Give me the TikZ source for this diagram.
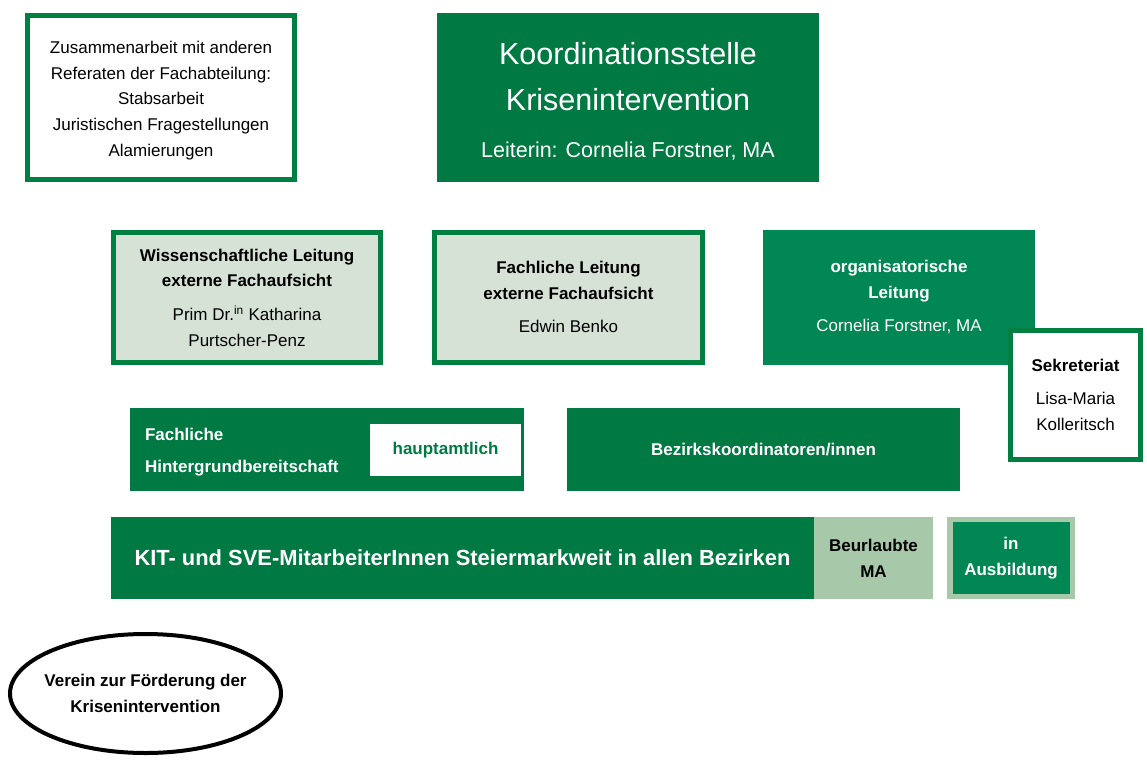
\documentclass[tikz,border=0pt]{standalone}
\usepackage{fontspec}
\setmainfont{Liberation Sans}
\usetikzlibrary{shapes.geometric}
\definecolor{kitdark}{RGB}{0,122,66}
\definecolor{kitmid}{RGB}{0,135,84}
\definecolor{kitline}{RGB}{0,128,64}
\definecolor{kitpale}{RGB}{214,226,214}
\definecolor{kitsage}{RGB}{168,200,170}
\begin{document}
\begin{tikzpicture}[
        x=1pt, y=-1pt,
        font=\fontsize{17}{25.7}\selectfont
    ]
    \tikzset{
        framebox/.style = {rectangle, draw=kitline, line width=5pt, fill=white, align=center, inner sep=0pt},
        palebox/.style  = {framebox, fill=kitpale},
        darkbox/.style  = {rectangle, fill=kitdark, text=white, align=center, inner sep=0pt},
        midbox/.style   = {darkbox, fill=kitmid},
        sagebox/.style  = {rectangle, fill=kitsage, align=center, inner sep=0pt},
        boldtext/.style = {font=\fontsize{17}{25.7}\selectfont\bfseries},
    }
    \useasboundingbox (0,0) rectangle (1147,765);
    \node[framebox,minimum width=267pt,minimum height=164pt] (zusammen) at (161,97.5)
        {\rule{0pt}{18.4pt}Zusammenarbeit mit anderen\\Referaten der Fachabteilung:\\Stabsarbeit\\Juristischen Fragestellungen\\Alamierungen};
    \node[darkbox,minimum width=382pt,minimum height=169pt,font=\fontsize{30.5}{46}\selectfont] (kstelle) at (628,97.5)
        {\rule{0pt}{30.6pt}Koordinationsstelle\\Krisenintervention\\[1pt]\fontsize{21.5}{46}\selectfont Leiterin: Cornelia Forstner, MA};
    \node[palebox,minimum width=267pt,minimum height=130pt] (wissleit) at (247,297.5)
        {\bfseries Wissenschaftliche Leitung\\\bfseries externe Fachaufsicht\\[8pt]Prim Dr.\textsuperscript{in} Katharina\\Purtscher-Penz};
    \node[palebox,minimum width=268pt,minimum height=130pt] (fachleit) at (568.5,297)
        {\bfseries Fachliche Leitung\\\bfseries externe Fachaufsicht\\[7pt]Edwin Benko};
    \node[midbox,minimum width=272pt,minimum height=135pt] (orgleit) at (899,297)
        {\bfseries organisatorische\\\bfseries Leitung\\[7pt]Cornelia Forstner, MA};
    \node[framebox,minimum width=130pt,minimum height=129pt] (sekret) at (1075.5,395)
        {\bfseries Sekreteriat\\[7pt]Lisa-Maria\\Kolleritsch};
    \node[darkbox,minimum width=394pt,minimum height=83pt,text width=364pt,align=left,
        font=\fontsize{17}{32}\selectfont\bfseries] (hintergrund) at (327,449.5)
        {\rule{0pt}{18.4pt}Fachliche\\Hintergrundbereitschaft};
    \node[rectangle,fill=white,text=kitdark,boldtext,minimum width=151pt,minimum height=52pt,inner sep=0pt] (haupt) at (445.5,450)
        {hauptamtlich};
    \node[darkbox,minimum width=393pt,minimum height=83pt,boldtext] (bezirk) at (763.5,449.5)
        {Bezirkskoordinatoren/innen};
    \node[darkbox,minimum width=703pt,minimum height=82pt,font=\fontsize{21.9}{26}\selectfont\bfseries] (kit) at (462.5,558)
        {KIT- und SVE-MitarbeiterInnen Steiermarkweit in allen Bezirken};
    \node[sagebox,minimum width=119pt,minimum height=82pt,boldtext] (beurl) at (873.5,558)
        {Beurlaubte\\MA};
    \node[sagebox,minimum width=128pt,minimum height=82pt] (ausbild) at (1011,558) {};
    \node[midbox,minimum width=117pt,minimum height=72pt,boldtext] (ausbildin) at (ausbild)
        {in\\Ausbildung};
    \node[ellipse,draw=black,line width=4pt,minimum width=271pt,minimum height=119pt,inner sep=-14pt,align=center,boldtext] (verein) at (145.5,693.5)
        {Verein zur Förderung der\\Krisenintervention};
\end{tikzpicture}
\end{document}
